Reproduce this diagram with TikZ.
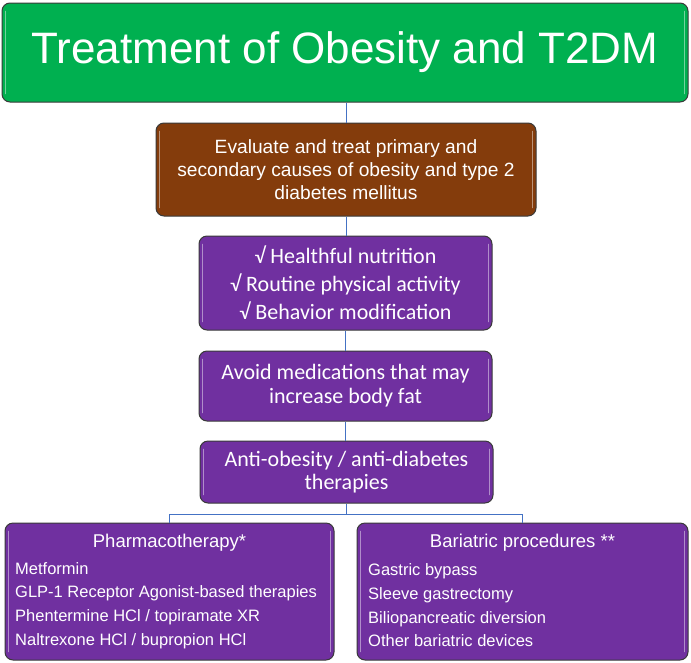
\documentclass[tikz,border=0pt]{standalone}
\usepackage{fontspec}
\setmainfont{Liberation Sans}
\newfontfamily\calib{Carlito}
\definecolor{titlegreen}{HTML}{00B050}
\definecolor{evalbrown}{HTML}{843C0C}
\definecolor{stepviolet}{HTML}{7030A0}
\definecolor{linkblue}{HTML}{4472C4}
\definecolor{edgegray}{HTML}{3A3A3A}
\tikzset{
  flowbox/.style={draw=edgegray, line width=1pt, rounded corners=8pt, text=white, align=center, inner sep=0pt},
  link/.style={draw=linkblue, line width=1pt},
  bevelline/.style={draw=white, opacity=0.45, line width=1.6pt, line cap=round},
  listtext/.style={text=white, align=left, anchor=west, inner sep=0pt, font=\fontsize{16.5}{23.7}\selectfont},
  headtext/.style={text=white, inner sep=0pt, font=\fontsize{18.5}{22}\selectfont}
}
\begin{document}
\begin{tikzpicture}[x=1pt,y=-1pt]
\useasboundingbox (0,0) rectangle (691,662);
\node[flowbox, fill=titlegreen, minimum width=686pt, minimum height=99pt, font=\fontsize{44}{50}\selectfont] (title) at (345,52.5) {Treatment of Obesity and T2DM};
\node[flowbox, fill=evalbrown, minimum width=380pt, minimum height=93pt, font=\fontsize{19.2}{23}\selectfont] (eval) at (346,169.5) {Evaluate and treat primary and\\secondary causes of obesity and type 2\\diabetes mellitus};
\node[flowbox, fill=stepviolet, minimum width=293pt, minimum height=94pt, font=\calib\fontsize{22}{28}\selectfont] (life) at (345.5,283) {√ Healthful nutrition\\√ Routine physical activity\\√ Behavior modification};
\node[flowbox, fill=stepviolet, minimum width=293pt, minimum height=70pt, font=\calib\fontsize{22}{24}\selectfont] (avoid) at (345.5,386) {Avoid medications that may\\increase body fat};
\node[flowbox, fill=stepviolet, minimum width=293pt, minimum height=62pt, font=\calib\fontsize{22}{23}\selectfont] (anti) at (346.5,472) {Anti-obesity / anti-diabetes\\therapies};
\node[flowbox, fill=stepviolet, minimum width=329pt, minimum height=137pt] (pharma) at (169.5,591.5) {};
\node[flowbox, fill=stepviolet, minimum width=331pt, minimum height=137pt] (bari) at (522.5,591.5) {};
\foreach \b in {title,eval,life,avoid,anti,pharma,bari}{
  \draw[bevelline] ([xshift=4pt,yshift=-9pt]\b.north west) -- ([xshift=4pt,yshift=9pt]\b.south west);
  \draw[bevelline] ([xshift=-4pt,yshift=-9pt]\b.north east) -- ([xshift=-4pt,yshift=9pt]\b.south east);
}
\node[headtext] (pharmahead) at (169.5,543) {Pharmacotherapy*};
\node[listtext] (pharmalist) at (15,605.5) {Metformin\\GLP-1 Receptor Agonist-based therapies\\Phentermine HCl / topiramate XR\\Naltrexone HCl / bupropion HCl};
\node[headtext] (barihead) at (522.5,543) {Bariatric procedures **};
\node[listtext] (barilist) at (368,605.5) {Gastric bypass\\Sleeve gastrectomy\\Biliopancreatic diversion\\Other bariatric devices};
\coordinate (split) at (346.5,514);
\draw[link] (title.south -| eval.north) -- (eval.north);
\draw[link] (eval.south) -- (life.north -| eval.south);
\draw[link] (life.south) -- (avoid.north);
\draw[link] (avoid.south) -- (anti.north -| avoid.south);
\draw[link] (anti.south) -- (split);
\draw[link] (split) -| (pharma.north);
\draw[link] (split) -| (bari.north);
\end{tikzpicture}
\end{document}
